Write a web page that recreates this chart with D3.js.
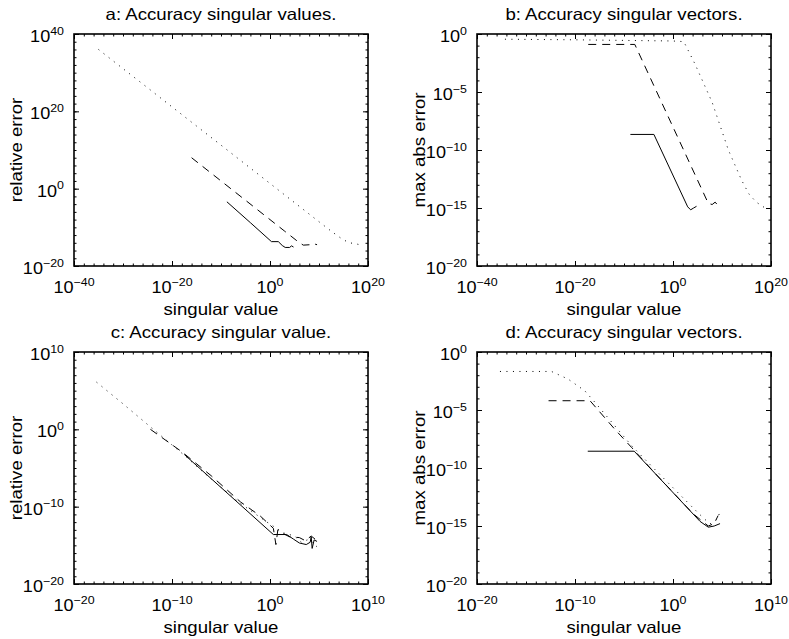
<!DOCTYPE html>
<html>
<head>
<meta charset="utf-8">
<script src="https://cdn.jsdelivr.net/npm/d3@7"></script>
<style>
body { margin: 0; background: #fff; }
svg { display: block; font-family: "Liberation Sans", Arial, sans-serif; }
</style>
</head>
<body>
<script>
// a: accuracy singular values
var aDotX = [1e-35, 1e-30, 1e-25, 1e-20, 1e-15, 1e-10, 1e-5, 1, 1e5, 1e10, 4e12, 6.3e14, 1.6e16, 2e17, 5e18];
var aDotY = [1e36, 1.1e31, 1.3e26, 1.4e21, 1.6e16, 1.8e11, 2e6, 22, 2.5e-4, 2.8e-9, 7.9e-12, 7.9e-14, 1e-14, 6.3e-15, 2.5e-15];
var aDashX = [1e-16, 1e-10, 1e-5, 1, 1e3, 3.2e5, 2e6, 6.3e6, 1.6e8, 6.3e8, 4e9];
var aDashY = [1e8, 1e2, 1e-3, 1e-8, 1e-11, 3.2e-14, 6.3e-15, 2.5e-15, 3.2e-15, 6.3e-15, 3.2e-15];
var aSolidX = [1.6e-9, 1e-4, 2, 50, 320, 1260, 1e4, 2.5e4, 6.3e4];
var aSolidY = [4e-4, 1.6e-9, 2e-14, 2e-14, 2e-15, 6.3e-16, 6.3e-16, 1.6e-15, 8e-16];

// b: accuracy singular vectors
var bDotX = [5e-35, 1e-20, 1e-10, 1, 160, 3.2e4, 1e8, 2e11, 1e14, 3.2e15, 1e17, 6.3e18];
var bDotY = [0.355, 0.316, 0.28, 0.25, 0.22, 2.5e-3, 1.26e-6, 1e-10, 2.5e-13, 1.6e-14, 3.2e-15, 1e-15];
var bDashX = [5e-18, 1.6e-8, 1.6e7, 1e8, 4e8, 1.6e9, 3.2e9];
var bDashY = [0.126, 0.126, 2.5e-15, 2e-15, 3.2e-15, 1.6e-15, 1.26e-15];
var bSolidX = [2e-9, 1.26e-4, 1e3, 4e3, 1.6e4, 6.3e4];
var bSolidY = [2.2e-9, 2.2e-9, 1.26e-15, 7e-16, 1e-15, 1.4e-15];

// c: accuracy singular value
var cDotX = [2e-18, 1e-15, 1e-12, 2e-9, 3.2e-7, 1e-3, 0.5, 25, 320, 1600, 1e4, 6.3e4];
var cDotY = [1.26e6, 2e3, 1.26, 4e-4, 1.26e-6, 2.5e-10, 1e-12, 4e-14, 1.6e-14, 2.5e-15, 6.3e-15, 6.3e-16];
var cDashX = [6.3e-13, 1e-9, 1e-6, 1e-3, 0.1, 2.2, 4, 6.3, 16, 100, 1000, 4000, 1.6e4, 5e4];
var cDashY = [1, 1.26e-3, 1e-6, 4e-10, 6.3e-12, 1.6e-13, 1.26e-15, 1e-13, 4e-14, 1.26e-14, 1e-14, 4e-15, 1.6e-14, 5e-15];
var cSolidX = [1.8e-9, 2.2, 50, 250, 1000, 5000, 1.26e4, 1.6e4, 2e4, 3.2e4, 6.3e4];
var cSolidY = [5.6e-4, 2.5e-14, 2.5e-14, 6.3e-15, 2e-15, 1.26e-15, 2.5e-15, 1.26e-14, 4e-16, 5e-15, 3.2e-15];

// d: accuracy singular vectors
var dDotX = [2.2e-18, 4e-13, 2e-11, 1e-9, 1.1e-8, 6.3e-5, 1e-2, 1, 100, 1600, 6300, 2e4, 4e4, 6.3e4];
var dDotY = [0.021, 0.021, 4.6e-3, 4.5e-4, 4.5e-5, 7.9e-9, 1e-10, 2e-12, 4e-14, 4e-15, 1.6e-15, 2.5e-15, 6.3e-15, 1.6e-14];
var dDashX = [2e-13, 3.4e-9, 1e-6, 6.3e-5, 1e-2, 1, 100, 1000, 4000, 1.6e4, 4e4];
var dDashY = [6.3e-5, 6.3e-5, 2.5e-7, 5.6e-9, 5e-11, 7.9e-13, 1.26e-14, 2.5e-15, 1e-15, 1.6e-15, 7.9e-15];
var dSolidX = [2e-9, 1.1e-4, 575, 4000, 1.6e4, 6.3e4];
var dSolidY = [2.8e-9, 2.8e-9, 2.5e-15, 7.9e-16, 1e-15, 1.6e-15];

// tick label exponents
var abXTicks = [-40, -20, 0, 20];
var aYTicks = [-20, 0, 20, 40];
var bdYTicks = [-20, -15, -10, -5, 0];
var cdXTicks = [-20, -10, 0, 10];
var cYTicks = [-20, -10, 0, 10];

var titles = ["a: Accuracy singular values.", "b: Accuracy singular vectors.",
  "c: Accuracy singular value.", "d: Accuracy singular vectors."];
var yLabels = ["relative error", "max abs error", "relative error", "max abs error"];
var xLabel = "singular  value";

var SX = 1.13; // glyphs in the reference are a bit wide

var panels = [
  { left: 74, top: 34, xDom: [-40, 20], yDom: [-20, 40], xStep: 2, yStep: 2, xTicks: abXTicks, yTicks: aYTicks,
    lines: [[aDotX, aDotY, "dot"], [aDashX, aDashY, "dash"], [aSolidX, aSolidY, "solid"]] },
  { left: 477, top: 34, xDom: [-40, 20], yDom: [-20, 0], xStep: 2, yStep: 1, xTicks: abXTicks, yTicks: bdYTicks,
    lines: [[bDotX, bDotY, "dot"], [bDashX, bDashY, "dash"], [bSolidX, bSolidY, "solid"]] },
  { left: 74, top: 352, xDom: [-20, 10], yDom: [-20, 10], xStep: 1, yStep: 1, xTicks: cdXTicks, yTicks: cYTicks,
    lines: [[cDotX, cDotY, "dot"], [cDashX, cDashY, "dash"], [cSolidX, cSolidY, "solid"]] },
  { left: 477, top: 352, xDom: [-20, 10], yDom: [-20, 0], xStep: 1, yStep: 1, xTicks: cdXTicks, yTicks: bdYTicks,
    lines: [[dDotX, dDotY, "dot"], [dDashX, dDashY, "dash"], [dSolidX, dSolidY, "solid"]] }
];

var W = 294, H = 232;
var dashes = { dot: "1,5.5", dash: "8,6", solid: null };

var svg = d3.select("body").append("svg")
  .attr("width", 789)
  .attr("height", 639);

function pow10(e) { return Math.pow(10, e); }

function decades(dom, step) {
  return d3.range(dom[0], dom[1] + 0.001, step).map(pow10);
}

function wideText(g, x, y, str, anchor, size, rot) {
  return g.append("text")
    .attr("transform", "translate(" + x + "," + y + ")" + (rot ? " rotate(-90)" : "") + " scale(" + SX + ",1)")
    .attr("text-anchor", anchor)
    .style("font-size", size + "px")
    .text(str);
}

function powLabel(g, x, y, e, anchor) {
  var t = g.append("text")
    .attr("transform", "translate(" + x + "," + y + ") scale(" + SX + ",1)")
    .attr("text-anchor", anchor)
    .style("font-size", "16px");
  t.append("tspan").text("10");
  t.append("tspan")
    .attr("dy", -7.5)
    .style("font-size", "11px")
    .text(String(e).replace("-", "\u2212"));
}

panels.forEach(function (p, i) {
  var x = d3.scaleLog()
    .domain(p.xDom.map(pow10))
    .range([p.left, p.left + W]);
  var y = d3.scaleLog()
    .domain(p.yDom.map(pow10))
    .range([p.top + H, p.top]);

  var g = svg.append("g").attr("class", "panel");

  // inward ticks on all four sides, minor then major
  var sides = [
    [d3.axisBottom(x), "translate(0," + (p.top + H) + ")", p.xDom, p.xStep, p.xTicks],
    [d3.axisTop(x), "translate(0," + p.top + ")", p.xDom, p.xStep, p.xTicks],
    [d3.axisLeft(y), "translate(" + p.left + ",0)", p.yDom, p.yStep, p.yTicks],
    [d3.axisRight(y), "translate(" + (p.left + W) + ",0)", p.yDom, p.yStep, p.yTicks]
  ];
  sides.forEach(function (s) {
    g.append("g")
      .attr("transform", s[1])
      .call(s[0].tickValues(decades(s[2], s[3])).tickSize(-2.5).tickFormat(""))
      .call(function (a) { a.select(".domain").remove(); });
    g.append("g")
      .attr("transform", s[1])
      .call(s[0].tickValues(s[4].map(pow10)).tickSize(-5).tickFormat(""))
      .call(function (a) { a.select(".domain").remove(); });
  });

  g.append("rect")
    .attr("x", p.left)
    .attr("y", p.top)
    .attr("width", W)
    .attr("height", H)
    .attr("fill", "none")
    .attr("stroke", "#000")
    .attr("stroke-width", 1.6);

  // curves
  p.lines.forEach(function (l) {
    var pts = l[0].map(function (v, k) { return [v, l[1][k]]; });
    g.append("path")
      .datum(pts)
      .attr("fill", "none")
      .attr("stroke", "#000")
      .attr("stroke-width", 1)
      .attr("stroke-dasharray", dashes[l[2]])
      .attr("d", d3.line()
        .x(function (d) { return x(d[0]); })
        .y(function (d) { return y(d[1]); }));
  });

  // tick labels
  p.xTicks.forEach(function (e) {
    powLabel(g, x(pow10(e)), p.top + H + 27, e, "middle");
  });
  p.yTicks.forEach(function (e) {
    powLabel(g, p.left - 10, y(pow10(e)) + 8, e, "end");
  });

  wideText(g, p.left + W / 2, p.top - 14, titles[i], "middle", 16.5);
  wideText(g, p.left + W / 2, p.top + H + 49, xLabel, "middle", 16.5);
  wideText(g, p.left - 52, p.top + H / 2, yLabels[i], "middle", 16.5, true);
});
</script>
</body>
</html>
